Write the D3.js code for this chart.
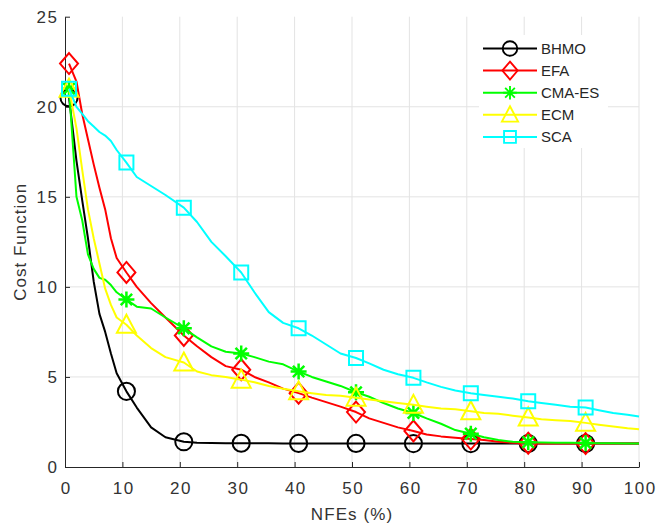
<!DOCTYPE html>
<html>
<head>
<meta charset="utf-8">
<script src="https://cdn.jsdelivr.net/npm/d3@7"></script>
<style>
  body { margin: 0; background: #fff; }
  text { font-family: "Liberation Sans", Arial, sans-serif; }
</style>
</head>
<body>
<svg id="chart" width="656" height="526"></svg>
<script>
// NFEs (%) sample points, shared by every series
var xs = [0.7, 2, 3, 4, 5, 6, 7, 8, 9, 10.7, 12.5, 15, 17.5, 20.7, 23, 25.5, 28, 30.7, 33, 35.5, 38,
          40.7, 43, 45.5, 48, 50.7, 53, 55.5, 58, 60.7, 63, 65.5, 68, 70.7, 73, 75.5, 78, 80.7, 83,
          85.5, 88, 90.7, 93, 95.5, 98, 100];

var bhmo = [20.5, 17.0, 14.8, 12.7, 10.3, 8.5, 7.5, 6.3, 5.2, 4.2, 3.3, 2.2, 1.65, 1.4, 1.35, 1.33,
            1.32, 1.32, 1.32, 1.32, 1.31, 1.31, 1.31, 1.31, 1.31, 1.31, 1.31, 1.31, 1.3, 1.3, 1.3,
            1.3, 1.3, 1.3, 1.3, 1.3, 1.3, 1.3, 1.3, 1.3, 1.3, 1.3, 1.3, 1.3, 1.3, 1.3];
var efa = [22.4, 21.4, 19.6, 18.2, 16.8, 15.5, 14.3, 12.7, 11.6, 10.8, 10.0, 9.1, 8.3, 7.3, 6.7, 6.1,
           5.6, 5.4, 5.0, 4.7, 4.35, 4.1, 3.85, 3.6, 3.35, 3.05, 2.7, 2.45, 2.2, 2.0, 1.8, 1.7, 1.62,
           1.55, 1.5, 1.4, 1.35, 1.32, 1.31, 1.3, 1.3, 1.3, 1.3, 1.3, 1.3, 1.3];
var cmaes = [21.0, 15.0, 13.7, 11.8, 11.0, 10.5, 10.4, 10.1, 9.7, 9.3, 8.9, 8.8, 8.3, 7.7, 7.2, 6.7,
             6.4, 6.3, 6.1, 5.85, 5.7, 5.3, 5.0, 4.75, 4.5, 4.15, 3.9, 3.55, 3.25, 3.0, 2.7, 2.4, 2.05,
             1.85, 1.65, 1.5, 1.4, 1.38, 1.36, 1.35, 1.34, 1.33, 1.32, 1.32, 1.31, 1.31];
var ecm = [21.0, 18.8, 16.5, 14.3, 12.7, 11.3, 9.9, 9.0, 8.3, 7.9, 7.3, 6.6, 6.1, 5.8, 5.3, 5.1,
           5.0, 4.85, 4.7, 4.5, 4.35, 4.2, 4.1, 4.0, 3.95, 3.85, 3.75, 3.65, 3.55, 3.45, 3.35, 3.25,
           3.2, 3.1, 3.0, 2.95, 2.85, 2.75, 2.65, 2.6, 2.55, 2.45, 2.35, 2.25, 2.15, 2.1];
var sca = [21.0, 20.0, 19.6, 19.2, 18.9, 18.6, 18.4, 18.1, 17.6, 16.9, 16.1, 15.6, 15.1, 14.4, 13.6,
           12.5, 11.7, 10.8, 9.7, 8.6, 8.0, 7.7, 7.3, 6.8, 6.3, 6.05, 5.75, 5.4, 5.15, 4.95, 4.7,
           4.45, 4.25, 4.1, 4.0, 3.9, 3.8, 3.65, 3.55, 3.45, 3.35, 3.3, 3.15, 3.0, 2.9, 2.8];

// markers sit on every 10th percent (offset like the original plot)
var markerX = [0.7, 10.7, 20.7, 30.7, 40.7, 50.7, 60.7, 70.7, 80.7, 90.7];

var names = ["BHMO", "EFA", "CMA-ES", "ECM", "SCA"];
var xTicks = [0, 10, 20, 30, 40, 50, 60, 70, 80, 90, 100];
var yTicks = [0, 5, 10, 15, 20, 25];

var series = [
  {name: names[0], values: bhmo,  color: "#000000", marker: "circle"},
  {name: names[1], values: efa,   color: "#ff0000", marker: "diamond"},
  {name: names[2], values: cmaes, color: "#00ff00", marker: "star"},
  {name: names[3], values: ecm,   color: "#ffff00", marker: "triangle"},
  {name: names[4], values: sca,   color: "#00ffff", marker: "square"}
];

var svg = d3.select("#chart");
var plotL = 65, plotR = 639, plotT = 16.7, plotB = 467;

var x = d3.scaleLinear().domain([0, 100]).range([plotL, plotR]);
var y = d3.scaleLinear().domain([0, 25]).range([plotB, plotT]);

// grid
var grid = svg.append("g").attr("class", "grid");
grid.selectAll(".vgrid")
    .data(xTicks.slice(1)).enter().append("line")
    .attr("x1", d => x(d)).attr("x2", d => x(d))
    .attr("y1", plotT).attr("y2", plotB)
    .style("stroke", "#e3e3e3").style("stroke-width", 1);
grid.selectAll(".hgrid")
    .data(yTicks.slice(1, -1)).enter().append("line")
    .attr("x1", plotL).attr("x2", plotR)
    .attr("y1", d => y(d)).attr("y2", d => y(d))
    .style("stroke", "#e3e3e3").style("stroke-width", 1);

// axes, ticks pointing inward like matlab
var xAxis = svg.append("g")
    .attr("transform", "translate(0," + plotB + ")")
    .call(d3.axisBottom(x).tickValues(xTicks).tickSizeInner(-5).tickSizeOuter(0).tickPadding(15));
var yAxis = svg.append("g")
    .attr("transform", "translate(" + plotL + ",0)")
    .call(d3.axisLeft(y).tickValues(yTicks).tickSizeInner(-5).tickSizeOuter(0).tickPadding(8));

[xAxis, yAxis].forEach(function(a) {
  a.select(".domain").style("stroke", "#262626").style("stroke-width", 1);
  a.selectAll(".tick line").style("stroke", "#262626");
  a.selectAll(".tick text")
      .style("font-family", "'Liberation Sans', Arial, sans-serif")
      .style("font-size", "17px")
      .style("letter-spacing", "1.5px")
      .style("fill", "#333333");
});
// letter-spacing pads the right side, shift x labels back to center
xAxis.selectAll(".tick text").attr("dx", "0.75px");
yAxis.selectAll(".tick text").attr("dx", "1.5px");

// axis labels
svg.append("text")
    .attr("x", (plotL + plotR) / 2).attr("y", 520)
    .attr("text-anchor", "middle")
    .style("font-size", "17px").style("letter-spacing", "1.1px").style("fill", "#333333")
    .text("NFEs (%)");
svg.append("text")
    .attr("transform", "translate(26," + ((plotT + plotB) / 2) + ") rotate(-90)")
    .attr("text-anchor", "middle")
    .style("font-size", "17px").style("letter-spacing", "1px").style("fill", "#333333")
    .text("Cost Function");

// marker shapes
function markerPath(type) {
  switch (type) {
    case "circle":   return d3.symbol(d3.symbolCircle, 230)();
    case "square":   return "M-7,-7H7V7H-7Z";
    case "diamond":  return "M0,-10.5L9,0L0,10.5L-9,0Z";
    case "triangle": return "M0,-10L9.5,8H-9.5Z";
    case "star":     return "M0,-8V8M-8,0H8M-5.7,-5.7L5.7,5.7M-5.7,5.7L5.7,-5.7";
  }
}

var line = d3.line()
    .x(function(d, i) { return x(xs[i]); })
    .y(function(d) { return y(d); });

series.forEach(function(s) {
  var g = svg.append("g").attr("class", "series");
  g.append("path")
      .datum(s.values)
      .attr("d", line)
      .style("fill", "none")
      .style("stroke", s.color)
      .style("stroke-width", 2)
      .style("stroke-linejoin", "round");

  var pts = markerX.map(function(mx) {
    var i = xs.indexOf(mx);
    return [xs[i], s.values[i]];
  });
  g.selectAll(".mark")
      .data(pts).enter().append("path")
      .attr("transform", d => "translate(" + x(d[0]) + "," + y(d[1]) + ")")
      .attr("d", markerPath(s.marker))
      .style("fill", "none")
      .style("stroke", s.color)
      .style("stroke-width", s.marker == "star" ? 2.5 : 2);
});

// legend
var legend = svg.append("g").attr("class", "legend");
legend.append("rect")
    .attr("x", 479).attr("y", 35)
    .attr("width", 129).attr("height", 113)
    .style("fill", "white");

var row = legend.selectAll(".row")
    .data(series).enter().append("g")
    .attr("transform", function(d, i) { return "translate(0," + (48.5 + i * 22.1) + ")"; });

row.append("line")
    .attr("x1", 483).attr("x2", 537)
    .style("stroke", d => d.color).style("stroke-width", 2);
row.append("path")
    .attr("transform", "translate(510,0) scale(0.85)")
    .attr("d", d => markerPath(d.marker))
    .style("fill", "none")
    .style("stroke", d => d.color)
    .style("stroke-width", 2.2);
row.append("text")
    .attr("x", 541).attr("y", 5.5)
    .style("font-size", "15px").style("fill", "#262626")
    .text(d => d.name);
</script>
</body>
</html>
